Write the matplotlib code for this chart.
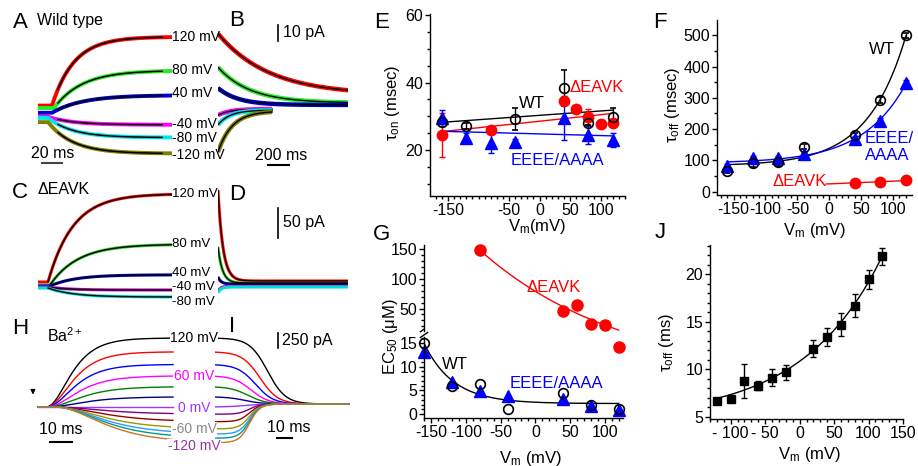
import numpy as np
import matplotlib.pyplot as plt
from matplotlib.ticker import MultipleLocator

plt.rcParams['font.family'] = ['Liberation Sans', 'DejaVu Sans']
plt.rcParams['mathtext.fontset'] = 'custom'
plt.rcParams['mathtext.rm'] = 'Liberation Sans'
plt.rcParams['mathtext.it'] = 'Liberation Sans:italic'
plt.rcParams['axes.unicode_minus'] = False
plt.rcParams['axes.linewidth'] = 1.0

W, H = 918, 466

# ---------------- A / B : wild type gating currents (pA) ----------------
ab_labels = ['120 mV', '80 mV', '40 mV', '-40 mV', '-80 mV', '-120 mV']
ab_colors = ['#ff0000', '#22ee22', '#0000cc', '#ff00ff', '#00e5ee', '#808000']
a_start = [4.0, 2.5, -0.5, -3.0, -3.7, -6.3]
a_end = [47.0, 26.0, 10.5, -8.0, -16.0, -26.0]
a_tau = [22, 28, 30, 25, 25, 25]          # ms
a_delay = [14, 16, 14, 10, 10, 10]        # ms
b_start = [49.0, 28.0, 15.0, -2.0, -8.0, -25.0]
b_end = [10.6, 5.6, 4.4, 1.9, 1.2, 0.6]
b_tau = [485, 305, 190, 115, 115, 135]    # ms
b_len = [1240, 1240, 1240, 515, 515, 515]

# ---------------- C / D : dEAVK gating currents (pA) ----------------
cd_labels = ['120 mV', '80 mV', '40 mV', '-40 mV', '-80 mV']
cd_colors = ['#ff0000', '#33cc33', '#0000cc', '#cc00cc', '#00dddd']
c_start = [5.0, 0.0, -1.7, -3.3, -5.0]
c_end = [152.0, 68.0, 17.0, -8.3, -20.0]
c_tau = [25, 28, 25, 20, 25]
c_delay = [10, 12, 12, 10, 10]
d_start = [158.0, 63.0, 13.3, -10.0, -13.0]
d_end = [6.7, 3.3, 1.7, -1.7, -3.3]
d_tau = [48, 43, 29, 29, 29]

# ---------------- H / I : Ba2+ currents (pA) ----------------
h_volts = [120, 100, 80, 60, 40, 20, 0, -20, -40, -60, -80, -100, -120]
h_colors = ['#000000', '#ff0000', '#0000ff', '#ff00ff', '#008000', '#000080',
            '#9933ff', '#800080', '#990000', '#999900', '#3399ff', '#009999', '#cc7722']
h_level = [1150, 920, 710, 520, 340, 170, 0, -120, -245, -365, -450, -520, -595]
h_tau = [8, 8.5, 9, 10, 11, 12, 10, 16, 16, 16, 16, 16, 16]
h_delay = [3, 3, 3, 3, 3, 3, 3, 6, 6, 6, 6, 6, 6]
i_half = [35, 30, 27, 24, 22, 20, 20, 23, 23, 23, 23, 23, 23]
i_slope = [6, 6, 6, 6, 6, 6, 6, 3.5, 3.5, 3.5, 3.5, 3.5, 3.5]
i_final = 50

# ---------------- E : tau_on (msec) ----------------
e_wt_v = [-160, -120, -40, 40, 80, 120]
e_wt = [28.3, 27.1, 29.1, 38.4, 28.1, 29.7]
e_wt_err = [0, 0.8, 3.3, 5.2, 0.8, 2.7]
e_dk_v = [-160, -80, 40, 60, 80, 100, 120]
e_dk = [24.4, 25.9, 34.6, 32.3, 29.9, 27.7, 28.1]
e_dk_err = [6.5, 0, 0, 0, 2.4, 0, 1.0]
e_aa_v = [-160, -120, -80, -40, 40, 80, 120]
e_aa = [29.5, 23.5, 22.0, 22.5, 29.4, 24.4, 23.0]
e_aa_err = [2.5, 1.5, 3.0, 0.8, 6.5, 2.7, 2.2]

# ---------------- F : tau_off (msec) ----------------
f_v = [-160, -120, -80, -40, 40, 80, 120]
f_wt = [67, 92, 94, 144, 181, 293, 500]
f_wt_err = [6, 12, 12, 8, 8, 8, 8]
f_aa = [83, 107, 107, 119, 170, 227, 346]
f_aa_err = [5, 8, 8, 8, 8, 8, 10]
f_dk_v = [40, 80, 120]
f_dk = [29, 31, 36]

# ---------------- G : EC50 (uM) ----------------
g_v = [-160, -120, -80, -40, 40, 80, 120]
g_wt = [15.0, 6.0, 6.3, 1.1, 4.4, 1.9, 1.0]
g_aa = [13.0, 6.8, 4.9, 3.8, 3.2, 1.7, 0.85]
g_dk_v = [-80, 40, 60, 80, 100, 120]
g_dk = [149, 46, 56, 23, 22, 14.2]

# ---------------- J : tau_off (ms) ----------------
j_v = [-120, -100, -80, -60, -40, -20, 20, 40, 60, 80, 100, 120]
j_tau = [6.66, 6.87, 8.8, 8.27, 9.12, 9.69, 12.15, 13.38, 14.68, 16.72, 19.5, 21.9]
j_err = [0.2, 0.2, 1.8, 0.5, 0.9, 0.8, 0.9, 0.95, 1.2, 1.2, 1.0, 0.9]
j_ticklabels = ['- 100', '- 50', '0', '50', '100', '150']


fig = plt.figure(figsize=(W / 100, H / 100), dpi=100)


def px_axes(l, t, w, h, xlim, ylim, off=True):
    ax = fig.add_axes([l / W, 1 - (t + h) / H, w / W, h / H])
    ax.set_xlim(*xlim)
    ax.set_ylim(*ylim)
    if off:
        ax.axis('off')
    return ax


def ftext(x, y, s, **kw):
    kw.setdefault('ha', 'center')
    kw.setdefault('va', 'center')
    fig.text(x / W, 1 - y / H, s, **kw)


def relax(t, y0, y1, tau, t0=0.0):
    dt = np.clip(t - t0, 0, None)
    return y1 + (y0 - y1) * np.exp(-dt / tau)


def fit_exp(v, y, sign=1):
    v = np.asarray(v, float)
    y = np.asarray(y, float)
    best = None
    for k in np.linspace(15, 400, 386):
        X = np.column_stack([np.ones_like(v), np.exp(sign * v / k)])
        coef = np.linalg.lstsq(X, y, rcond=None)[0]
        err = np.sum((X @ coef - y) ** 2)
        if best is None or err < best[0]:
            best = (err, k, coef)
    _, k, (c, a) = best
    return lambda x: c + a * np.exp(sign * np.asarray(x, float) / k)


def open_axes(ax):
    for s in ('top', 'right'):
        ax.spines[s].set_visible(False)
    ax.tick_params(which='both', direction='out', labelsize=11.5, pad=1.5, width=1)
    ax.tick_params(which='major', length=3.5)
    ax.tick_params(which='minor', length=2)


# ===================== A =====================
ax_a = px_axes(38, 20, 134, 150, (0, 134), (-36.25, 57.5))
t = np.linspace(0, 134, 400)
tf = np.linspace(20, 124, 300)
for y0, y1, tau, d, c in zip(a_start, a_end, a_tau, a_delay, ab_colors):
    ax_a.plot(t, relax(t, y0, y1, tau, d), color=c, lw=2.8, solid_capstyle='butt')
    ax_a.plot(tf, relax(tf, y0, y1, tau, d), color='k', lw=1.1)
ax_a.plot([4, 24], [-32, -32], color='#444444', lw=1.5)
for lab, y in zip(ab_labels, [37, 70, 93, 124, 138, 155]):
    ftext(172, y, lab, ha='left', fontsize=10)
ftext(53, 153, '20 ms', fontsize=11.5)
ftext(20, 22, 'A', fontsize=16)
ftext(37, 20, 'Wild type', ha='left', fontsize=11.5)

# ===================== B =====================
ax_b = px_axes(218, 20, 130, 150, (0, 1238), (-36.25, 57.5))
for y0, y1, tau, n, c in zip(b_start, b_end, b_tau, b_len, ab_colors):
    tb = np.linspace(0, n, 300)
    ax_b.plot(tb, relax(tb, y0, y1, tau), color=c, lw=3.2, solid_capstyle='butt')
    ax_b.plot(tb, relax(tb, y0, y1, tau), color='k', lw=1.0)
ax_b.plot([571, 571], [44.4, 54.4], color='k', lw=1.2)
ax_b.plot([476, 676], [-33.1, -33.1], color='k', lw=1.5)
ftext(283, 33, '10 pA', ha='left', fontsize=11.5)
ftext(281, 155, '200 ms', fontsize=11.5)
ftext(237, 20, 'B', fontsize=16)

# ===================== C =====================
ax_c = px_axes(38, 185, 134, 120, (0, 134), (-33.3, 166.7))
for y0, y1, tau, d, c in zip(c_start, c_end, c_tau, c_delay, cd_colors):
    ax_c.plot(t, relax(t, y0, y1, tau, d), color=c, lw=2.2, solid_capstyle='butt')
    ax_c.plot(t[t > d], relax(t[t > d], y0, y1, tau, d), color='k', lw=1.0)
for lab, y in zip(cd_labels, [194, 244, 273, 287, 302]):
    ftext(172, y, lab, ha='left', fontsize=9.5)
ftext(20, 193, 'C', fontsize=16)
ftext(37, 190, '\u0394EAVK', ha='left', fontsize=11.5)

# ===================== D =====================
ax_d = px_axes(218, 185, 130, 120, (0, 1238), (-33.3, 166.7))
td = np.linspace(0, 1238, 600)
for y0, y1, tau, c in zip(d_start, d_end, d_tau, cd_colors):
    ax_d.plot(td, relax(td, y0, y1, tau), color=c, lw=2.2, solid_capstyle='butt')
for y0, y1, tau in zip(d_start[:3], d_end[:3], d_tau[:3]):
    ax_d.plot(td, relax(td, y0, y1, tau), color='k', lw=0.9)
ax_d.plot([571, 571], [78.3, 128.3], color='k', lw=1.2)
ftext(283, 222, '50 pA', ha='left', fontsize=11.5)
ftext(237, 195, 'D', fontsize=16)

# ===================== H =====================
ax_h = px_axes(28, 320, 147, 130, (-4.55, 62.3), (-716.7, 1450))
th = np.linspace(0, 61.4, 400)
for lev, tau, d, c in zip(h_level, h_tau, h_delay, h_colors):
    act = (1 - np.exp(-np.clip(th - d, 0, None) / tau)) ** 3
    ax_h.plot(th, lev * act, color=c, lw=1.0)
ax_h.annotate('', xy=(-2.3, 160), xytext=(-2.3, 340),
              arrowprops=dict(arrowstyle='-|>', lw=0.8, color='k', mutation_scale=7))
ax_h.plot([5.45, 15.45], [-583, -583], color='k', lw=1.5)
ftext(61, 430, '10 ms', fontsize=11.5)
ftext(20, 328, 'H', fontsize=16)
ftext(47, 336, r'$\mathrm{Ba^{2+}}$', ha='left', fontsize=11.5)
for lab, y, c in zip(['120 mV', '60 mV', '0 mV', '-60 mV', '-120 mV'],
                     [338, 376, 408, 429, 446],
                     ['#000000', '#ff00ff', '#9933ff', '#888888', '#993399']):
    ftext(194, y, lab, color=c, fontsize=10,
          bbox=dict(facecolor='white', edgecolor='none', pad=0.3))

# ===================== I =====================
ax_i = px_axes(215, 320, 135, 130, (0, 90), (-716.7, 1450))
ti = np.linspace(0, 89, 400)
for lev, half, s, c in zip(h_level, i_half, i_slope, h_colors):
    ax_i.plot(ti, i_final + (lev - i_final) / (1 + np.exp((ti - half) / s)), color=c, lw=1.0)
ax_i.plot([42, 42], [983, 1233], color='k', lw=1.2)
ax_i.plot([41.3, 51.3], [-517, -517], color='k', lw=1.5)
ftext(282, 340, '250 pA', ha='left', fontsize=11.5)
ftext(289, 428, '10 ms', fontsize=11.5)
ftext(232, 327, 'I', fontsize=16)

# ===================== E =====================
ax_e = px_axes(430, 14, 195, 182, (-179.5, 140), (6.4, 60.3), off=False)
open_axes(ax_e)
for v, y, c in [(e_wt_v, e_wt, 'k'), (e_dk_v, e_dk, 'red'), (e_aa_v, e_aa, 'blue')]:
    p = np.polyfit(v, y, 1)
    xx = np.array([min(v), max(v)])
    ax_e.plot(xx, np.polyval(p, xx), color=c, lw=1.0)
ax_e.errorbar(e_aa_v, e_aa, yerr=e_aa_err, fmt='^', color='blue', ms=8, capsize=2,
              elinewidth=1, clip_on=False)
ax_e.errorbar(e_dk_v, e_dk, yerr=e_dk_err, fmt='o', color='red', ms=7.5, capsize=2,
              elinewidth=1, clip_on=False)
ax_e.errorbar(e_wt_v, e_wt, yerr=e_wt_err, fmt='o', color='k', mfc='none', ms=7,
              mew=1.2, capsize=2, elinewidth=1, clip_on=False)
ax_e.set_xticks([-150, -50, 0, 50, 100])
ax_e.xaxis.set_minor_locator(MultipleLocator(10))
ax_e.set_yticks([20, 40, 60])
ax_e.yaxis.set_minor_locator(MultipleLocator(5))
ax_e.text(-12, 33.9, 'WT', ha='center', va='center', fontsize=12)
ax_e.text(93, 38.4, '\u0394EAVK', color='red', ha='center', va='center', fontsize=12)
ax_e.text(30, 17.0, 'EEEE/AAAA', color='blue', ha='center', va='center', fontsize=12)
ftext(382, 23, 'E', fontsize=16)
ftext(392, 103, r'$\mathrm{\tau_{on}}$ (msec)', rotation=90, fontsize=12)
ftext(537, 227, r'$\mathrm{V_m}$(mV)', fontsize=12)

# ===================== F =====================
ax_f = px_axes(717, 20, 195, 175, (-176, 129.6), (-10.5, 548.6), off=False)
open_axes(ax_f)
xx = np.linspace(-160, 120, 200)
ax_f.plot(xx, fit_exp(f_v, f_wt)(xx), color='k', lw=1.0)
ax_f.plot(xx, fit_exp(f_v, f_aa)(xx), color='blue', lw=1.0)
p = np.polyfit(f_dk_v, f_dk, 1)
xr = np.array([-5, 120])
ax_f.plot(xr, np.polyval(p, xr), color='red', lw=1.0)
ax_f.errorbar(f_v, f_aa, yerr=f_aa_err, fmt='^', color='blue', ms=8, capsize=2,
              elinewidth=1, clip_on=False)
ax_f.errorbar(f_v, f_wt, yerr=f_wt_err, fmt='o', color='k', mfc='none', ms=7,
              mew=1.2, capsize=2, elinewidth=1, clip_on=False)
ax_f.plot(f_dk_v, f_dk, 'o', color='red', ms=7.5)
ax_f.set_xticks([-150, -100, -50, 0, 50, 100])
ax_f.xaxis.set_minor_locator(MultipleLocator(10))
ax_f.set_yticks([0, 100, 200, 300, 400, 500])
ax_f.yaxis.set_minor_locator(MultipleLocator(50))
ax_f.text(82, 453, 'WT', ha='center', va='center', fontsize=12)
ax_f.text(56, 144, 'EEEE/\nAAAA', color='blue', ha='left', va='center', fontsize=12,
          linespacing=1.15)
ax_f.text(-4, 32, '\u0394EAVK', color='red', ha='right', va='center', fontsize=12)
ftext(660, 23, 'F', fontsize=16)
ftext(673, 105, r'$\mathrm{\tau_{off}}$ (msec)', rotation=90, fontsize=12)
ftext(815, 230, r'$\mathrm{V_m}$ (mV)', fontsize=12)

# ===================== G (broken y axis) =====================
g_xlim = (-160.5, 126.3)
ax_gl = px_axes(424, 335, 199, 83, g_xlim, (-0.85, 16.7), off=False)
ax_gu = px_axes(424, 245, 199, 86, g_xlim, (11.9, 157.6), off=False)
open_axes(ax_gl)
open_axes(ax_gu)
ax_gu.spines['bottom'].set_visible(False)
ax_gu.tick_params(axis='x', which='both', bottom=False, labelbottom=False)
ax_gl.spines['left'].set_bounds(-0.85, 16.2)

xx = np.linspace(-160, 120, 200)
ax_gl.plot(xx, fit_exp(g_v, g_wt, sign=-1)(xx), color='k', lw=1.0)
xr = np.linspace(-80, 120, 200)
ax_gu.plot(xr, fit_exp(g_dk_v, g_dk, sign=-1)(xr), color='red', lw=1.0)
dk_v = np.array(g_dk_v)
dk = np.array(g_dk)
lo = dk < 16
ax_gu.plot(dk_v[~lo], dk[~lo], 'o', color='red', ms=8, clip_on=False)
ax_gl.plot(dk_v[lo], dk[lo], 'o', color='red', ms=8, clip_on=False)
ax_gl.plot(g_v, g_aa, '^', color='blue', ms=8, clip_on=False)
ax_gl.plot(g_v, g_wt, 'o', color='k', mfc='none', ms=7, mew=1.2, clip_on=False)

ax_gl.set_xticks([-150, -100, -50, 0, 50, 100])
ax_gl.xaxis.set_minor_locator(MultipleLocator(10))
ax_gl.set_yticks([0, 5, 10, 15])
ax_gl.yaxis.set_minor_locator(MultipleLocator(1))
ax_gu.set_yticks([50, 100, 150])
ax_gu.yaxis.set_minor_locator(MultipleLocator(10))
for dy in (1.0, 1.07):
    ax_gl.plot([-0.018, 0.018], [dy - 0.03, dy + 0.03], transform=ax_gl.transAxes,
               color='k', lw=1.0, clip_on=False)
ax_gu.text(27, 86, '\u0394EAVK', color='red', ha='center', va='center', fontsize=12)
ax_gl.text(31, 6.55, 'EEEE/AAAA', color='blue', ha='center', va='center', fontsize=12)
ax_gl.text(-116, 10.4, 'WT', ha='center', va='center', fontsize=12)
ftext(382, 234, 'G', fontsize=16)
ftext(390, 337, r'$\mathrm{EC_{50}\ (\mu M)}$', rotation=90, fontsize=12)
ftext(531, 458, r'$\mathrm{V_m}$ (mV)', fontsize=12)

# ===================== J =====================
ax_j = px_axes(710, 245, 193, 174.3, (-130, 150), (4.72, 23.1), off=False)
open_axes(ax_j)
xx = np.linspace(-120, 120, 200)
ax_j.plot(xx, fit_exp(j_v, j_tau)(xx), color='k', lw=1.0)
ax_j.errorbar(j_v, j_tau, yerr=j_err, fmt='s', color='k', ms=6, capsize=2,
              elinewidth=1, clip_on=False)
ax_j.set_xticks([-100, -50, 0, 50, 100, 150])
ax_j.set_xticklabels(j_ticklabels)
ax_j.xaxis.set_minor_locator(MultipleLocator(10))
ax_j.set_yticks([5, 10, 15, 20])
ax_j.yaxis.set_minor_locator(MultipleLocator(1))
ftext(660, 233, 'J', fontsize=16)
ftext(667, 343, r'$\mathrm{\tau_{off}}$ (ms)', rotation=90, fontsize=12)
ftext(810, 454, r'$\mathrm{V_m}$ (mV)', fontsize=12)

fig.savefig('out.png', dpi=100, facecolor='white')
